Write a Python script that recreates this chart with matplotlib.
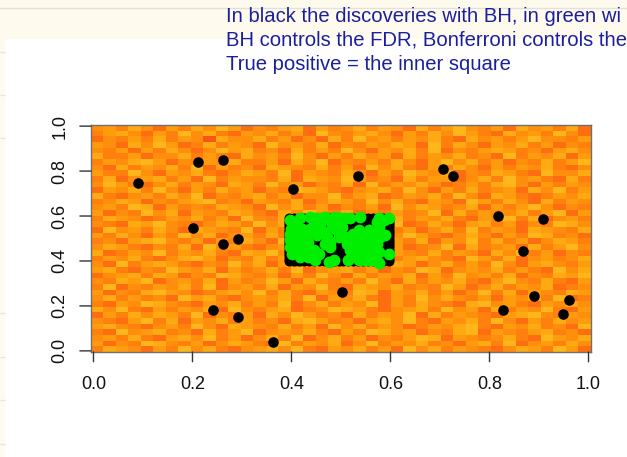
import matplotlib
matplotlib.use("Agg")
import matplotlib.pyplot as plt
import numpy as np
from matplotlib.colors import ListedColormap

plt.rcParams['font.family'] = ['Liberation Sans', 'DejaVu Sans']

# only what the reference shows, its first two lines run off the slide
title_lines = ["In black the discoveries with BH, in green wi",
               "BH controls the FDR, Bonferroni controls the",
               "True positive = the inner square"]
tick_vals = [0.0, 0.2, 0.4, 0.6, 0.8, 1.0]

# scattered BH discoveries outside the square
black_x = [.090, .211, .262, .403, .535, .707, .727, .201, .262, .292, .818,
           .909, .868, .503, .242, .292, .363, .828, .889, .949, .960]
black_y = [.746, .840, .849, .719, .777, .808, .777, .546, .474, .497, .599,
           .586, .443, .261, .180, .149, .038, .180, .243, .163, .225]

# BH discoveries fill the inner square
square_x = [.395, .405, .415, .425, .435, .445, .455, .465, .475, .485, .495,
            .505, .515, .525, .535, .545, .555, .565, .575, .585, .596]
square_y = [.400, .410, .420, .430, .440, .450, .460, .470, .480, .490,
            .500, .510, .520, .530, .540, .550, .560, .570, .580, .590]

green_x = [.397, .418, .399, .399, .411, .401, .448, .468, .488, .509, .539,
           .576, .596, .438, .458, .482, .502, .431, .451, .471, .411, .424,
           .445, .455, .434, .448, .475, .485, .515, .512, .522, .536, .556,
           .576, .589, .536, .549, .566, .519, .536, .552, .536, .549, .576,
           .596, .576, .478, .559, .397, .418, .495,
           .407, .421, .397, .414, .397, .424, .434, .438, .407, .414, .428,
           .438, .458, .478, .498, .519, .488, .465, .445, .509, .525, .546,
           .566, .579, .559, .573, .525, .542, .566, .559, .529, .478, .468,
           .573, .586, .566]
green_y = [.581, .589, .544, .507, .477, .433, .593, .596, .596, .593, .596,
           .593, .589, .544, .559, .559, .552, .514, .514, .507, .522, .470,
           .448, .433, .418, .403, .396, .406, .403, .477, .492, .537, .537,
           .552, .514, .492, .477, .485, .448, .448, .433, .403, .403, .393,
           .433, .440, .462, .403, .462, .418, .507,
           .559, .544, .522, .492, .492, .507, .485, .455, .448, .455, .440,
           .596, .589, .581, .589, .589, .544, .529, .566, .507, .522, .514,
           .522, .507, .507, .477, .462, .425, .425, .462, .418, .485, .477,
           .574, .581, .403]

# colour level per cell, top row first, estimated by eye (not cell accurate)
heat_rows = [
    "4536425364752435625346354263574352645362",
    "3564253746325463527435642536475326453742",
    "2435363541644635242637453546326453574435",
    "5426475236354274536243546527364254635243",
    "4352536424756342635374254637243565342564",
    "6335244635326453742536452635463427354625",
    "3546752435463352647243536425746352436357",
    "4263546372534265436352746325364253546324",
    "5337425463246537254364253754624365327446",
    "3624563527354436265475342635524637453263",
    "4753246354265374524362735464235367425354",
    "2546374253645243765324563742536345264735",
    "6324536472435635244735623546374265323546",
    "3465243567342543624653746325427536426354",
    "4537625343654274635243527465346253574243",
    "5243746254365326475362435347263544635725",
    "3654235463527436245375426354632547362453",
    "4326574324653746352463547236425635243764",
    "2745364265437253646324753524637354265436",
    "5364253746245363572435264753246425376342",
    "3425674352536427354637245362547363524653",
    "4653243627453245637254365234726345263574",
    "6235473546326574325346275436354264735243",
    "3546324675243635426375243564327536245346",
    "4273565324374625346254736524635374256435",
    "5632437546253463724563524376245463532746",
    "2456365243764352537426354625374536243657",
    "4365724536253475264353742635463257436325",
    "3724354637245362547326546343752463546234",
    "5243675423564736325437625463524736254365",
    "4635342756324546372546325374643525463723",
    "3254764325463537246354725364326745325464",
    "6473253546274356234765324563745263547325",
    "2536465372435264753426354726354325674354",
    "4325736254635342675342564732546374253645",
    "5643245374265436352746354235467325463427",
    "3274563426357245463253764524367254356342",
    "4536325647352463724635243576254346327546",
    "5243764352465327354624735463425637245364",
    "3654253746324564732546352746354324653752",
]
heat = np.array([[int(c) for c in r] for r in heat_rows])

heat_colors = ['#FA3A10', '#FC5412', '#FE6E10', '#FF800C', '#FF8E0C',
               '#FF9C0E', '#FFAA12', '#FFB61A', '#FFC222', '#FFD030']
cmap = ListedColormap(heat_colors)

fig = plt.figure(figsize=(6.27, 4.57), dpi=100, facecolor='white')

# slide behind the chart
bg = fig.add_axes([0, 0, 1, 1], zorder=0)
bg.set_xlim(0, 627)
bg.set_ylim(457, 0)
bg.axis('off')
bg.axhspan(0, 39, color='#FEFBEE', lw=0)
bg.axvspan(0, 5, color='#FEFBEE', lw=0)
bg.axhline(7.5, color='#E4E2D8', lw=1)
bg.hlines([52, 95, 138, 313, 357, 400, 444], 0, 5, color='#E6E4DA', lw=1)

for line, y in zip(title_lines, [22, 46, 70]):
    bg.text(226, y, line, color='#1A1FA0', fontsize=14.6, va='baseline', ha='left')

ax = fig.add_axes([91 / 627, 1 - 352 / 457, 500 / 627, 227 / 457], zorder=1)
ax.imshow(heat, cmap=cmap, vmin=0, vmax=9, extent=[-0.005, 1.005, -0.005, 1.005],
          aspect='auto', interpolation='nearest', zorder=1)
sx, sy = np.meshgrid(square_x, square_y)
ax.scatter(black_x, black_y, s=58, color='black', lw=0, zorder=3)
ax.scatter(sx.ravel(), sy.ravel(), s=52, color='black', lw=0, zorder=3)
ax.scatter(green_x, green_y, s=72, color='#00EE00', lw=0, zorder=4)
ax.set_xlim(-0.005, 1.005)
ax.set_ylim(-0.005, 1.005)

for side in ax.spines.values():
    side.set_color('#707070')
    side.set_linewidth(1)

ax.set_xticks([])
ax.set_yticks([])

# R style axes: ticks hang off the box, labels well away from it
for v in tick_vals:
    ax.annotate('', xy=(v, 0), xycoords=('data', 'axes fraction'), xytext=(0, -7),
                textcoords='offset points', arrowprops=dict(arrowstyle='-', color='#333333', lw=1, shrinkA=0, shrinkB=0))
    ax.annotate('', xy=(0, v), xycoords=('axes fraction', 'data'), xytext=(-8, 0),
                textcoords='offset points', arrowprops=dict(arrowstyle='-', color='#333333', lw=1, shrinkA=0, shrinkB=0))
    ax.annotate(f'{v:.1f}', xy=(v, 0), xycoords=('data', 'axes fraction'), xytext=(0, -23.5),
                textcoords='offset points', ha='center', va='center', fontsize=13, color='#111111')
    ax.annotate(f'{v:.1f}', xy=(0, v), xycoords=('axes fraction', 'data'), xytext=(-22.5, 0),
                textcoords='offset points', ha='center', va='center', rotation=90, fontsize=13, color='#111111')

fig.savefig('out.png', dpi=100)
